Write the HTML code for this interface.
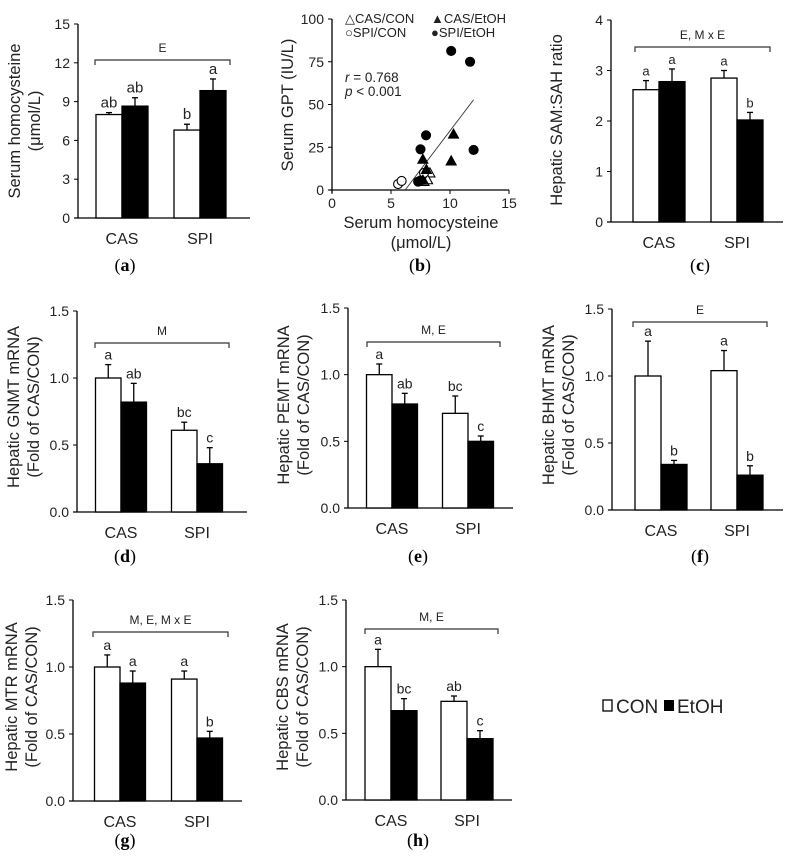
<!DOCTYPE html>
<html><head><meta charset="utf-8"><style>
html,body{margin:0;padding:0;background:#fff;}
svg{display:block;font-family:"Liberation Sans",sans-serif;}
</style></head><body>
<svg id="fig" width="790" height="864" viewBox="0 0 790 864" xmlns="http://www.w3.org/2000/svg"></svg>
<script>
const NS="http://www.w3.org/2000/svg";
const svg=document.getElementById('fig');
const groups=["CAS","SPI"];
// Panel data
const aCon=[8.0,6.8], aConErr=[0.15,0.45], aEtoh=[8.65,9.85], aEtohErr=[0.65,0.9], aLetters=["ab","ab","b","a"], aTicks=[0,3,6,9,12,15];
const cCon=[2.62,2.85], cConErr=[0.18,0.15], cEtoh=[2.78,2.02], cEtohErr=[0.25,0.15], cLetters=["a","a","a","b"], cTicks=[0,1,2,3,4];
const dCon=[1.0,0.61], dConErr=[0.1,0.06], dEtoh=[0.82,0.36], dEtohErr=[0.14,0.12], dLetters=["a","ab","bc","c"];
const eCon=[1.0,0.71], eConErr=[0.08,0.13], eEtoh=[0.78,0.50], eEtohErr=[0.08,0.04], eLetters=["a","ab","bc","c"];
const fCon=[1.0,1.04], fConErr=[0.26,0.15], fEtoh=[0.34,0.26], fEtohErr=[0.03,0.07], fLetters=["a","b","a","b"];
const gCon=[1.0,0.91], gConErr=[0.09,0.06], gEtoh=[0.88,0.47], gEtohErr=[0.09,0.05], gLetters=["a","a","a","b"];
const hCon=[1.0,0.74], hConErr=[0.13,0.04], hEtoh=[0.67,0.46], hEtohErr=[0.09,0.06], hLetters=["a","bc","ab","c"];
const mTicks=["0.0","0.5","1.0","1.5"];
// scatter data
const casConX=[8.3,8.1,7.8], casConY=[10,6,5];
const casEtohX=[10.3,10.1,7.7,8.0,7.7], casEtohY=[32.7,17,18,12,5.8];
const spiConX=[5.6,5.9,7.8], spiConY=[3.5,5.3,10];
const spiEtohX=[7.97,7.5,12.0,7.3,7.5,10.1,11.7], spiEtohY=[32,23.8,23.4,4.9,5.5,81.3,75];
const fitX=[6.2,12.0], fitSlope=9.1, fitIntercept=-56.4;
const bTicksX=[0,5,10,15], bTicksY=[0,25,50,75,100];

function el(tag,attrs,parent,text){
  const e=document.createElementNS(NS,tag);
  for(const k in attrs)e.setAttribute(k,attrs[k]);
  if(text!==undefined)e.textContent=text;
  (parent||svg).appendChild(e);return e;
}
function panelLabel(letter,x,y){
  const t=el('text',{x:x,y:y,'text-anchor':'middle','font-family':'Liberation Serif, serif','font-size':18});
  
  
  t.appendChild(document.createTextNode('('));
  el('tspan',{'font-weight':'bold'},t,letter);
  t.appendChild(document.createTextNode(')'));
}
function barPanel(p){
  const g=el('g',{});
  
  
  const ys=v=>p.y0-(v/p.max)*(p.y0-p.y1);
  el('line',{x1:p.ax,y1:p.y1,x2:p.ax,y2:p.y0,stroke:'#000','stroke-width':1.3},g);
  el('line',{x1:p.ax-4,y1:p.y0,x2:p.axEnd,y2:p.y0,stroke:'#000','stroke-width':1.3},g);
  p.ticks.forEach(tk=>{
    const v=parseFloat(tk);const y=ys(v);
    el('line',{x1:p.ax-4,y1:y,x2:p.ax,y2:y,stroke:'#000'},g);
    const t=el('text',{x:p.ax-8,y:y+5,'text-anchor':'end','font-size':14,fill:'#222'},g,tk);
    
    
  });
  const w=p.bw;
  groups.forEach((gr,i)=>{
    const cx=p.cx[i];
    [[p.con,p.conErr,'#fff',cx-w,'con'],[p.etoh,p.etohErr,'#000',cx,'etoh']].forEach((s,j)=>{
      const v=s[0][i],er=s[1][i];const top=ys(v);
      const r=el('rect',{x:s[3],y:top,width:w,height:p.y0-top,fill:s[2],stroke:'#000','stroke-width':1.3},g);
      
      
      const ex=s[3]+w/2, ey=ys(v+er);
      el('line',{x1:ex,y1:top,x2:ex,y2:ey,stroke:'#000','stroke-width':1.3},g);
      el('line',{x1:ex-3,y1:ey,x2:ex+3,y2:ey,stroke:'#000','stroke-width':1.3},g);
      const lt=el('text',{x:ex,y:ey-5,'text-anchor':'middle','font-size':p.lfs||13,fill:'#222'},g,p.letters[i*2+j]);
      
      
    });
    const ct=el('text',{x:cx,y:p.y0+26,'text-anchor':'middle','font-size':16,fill:'#222'},g,gr);
    
    
  });
  const bx1=p.br[0],bx2=p.br[1],by=p.br[2];
  el('path',{d:`M${bx1},${by+5}V${by}H${bx2}V${by+5}`,fill:'none',stroke:'#333','stroke-width':1.2},g);
  const bt=el('text',{x:(bx1+bx2)/2,y:by-8,'text-anchor':'middle','font-size':12,fill:'#222'},g,p.stat);
  
  
  const tg=el('text',{transform:`translate(${p.tx},${p.ty}) rotate(-90)`,'text-anchor':'middle','font-size':16.5,fill:'#222'},g);
  
  
  p.title.forEach((ln,k)=>{el('tspan',{x:0,dy:k===0?0:20},tg,ln);});
  panelLabel(p.id,p.lx,p.ly);
}
barPanel({id:'a',ax:78,axEnd:250,y0:218,y1:24,max:15,ticks:aTicks.map(String),bw:26,cx:[122,200],
  con:aCon,conErr:aConErr,etoh:aEtoh,etohErr:aEtohErr,letters:aLetters,lfs:15,br:[95,230,60],stat:'E',
  title:['Serum homocysteine','(μmol/L)'],tx:20,ty:121,lx:125,ly:271});
barPanel({id:'c',ax:611,axEnd:783,y0:222,y1:20,max:4,ticks:cTicks.map(String),bw:26,cx:[659,737],
  con:cCon,conErr:cConErr,etoh:cEtoh,etohErr:cEtohErr,letters:cLetters,lfs:13,br:[635,770,47],stat:'E, M x E',
  title:['Hepatic SAM:SAH ratio'],tx:562,ty:120,lx:700,ly:271});
barPanel({id:'d',ax:77,axEnd:247,y0:512,y1:311,max:1.5,ticks:mTicks,bw:25.5,cx:[121,197],
  con:dCon,conErr:dConErr,etoh:dEtoh,etohErr:dEtohErr,letters:dLetters,lfs:14,br:[95,229,343],stat:'M',
  title:['Hepatic GNMT mRNA','(Fold of CAS/CON)'],tx:19,ty:407,lx:125,ly:562});
barPanel({id:'e',ax:348,axEnd:513,y0:508,y1:308,max:1.5,ticks:mTicks,bw:25.5,cx:[392,468],
  con:eCon,conErr:eConErr,etoh:eEtoh,etohErr:eEtohErr,letters:eLetters,lfs:14,br:[367,500,342],stat:'M, E',
  title:['Hepatic PEMT mRNA','(Fold of CAS/CON)'],tx:289,ty:405,lx:418,ly:562});
barPanel({id:'f',ax:612,axEnd:783,y0:510,y1:309,max:1.5,ticks:mTicks,bw:26,cx:[661,737],
  con:fCon,conErr:fConErr,etoh:fEtoh,etohErr:fEtohErr,letters:fLetters,lfs:14,br:[633,767,322],stat:'E',
  title:['Hepatic BHMT mRNA','(Fold of CAS/CON)'],tx:554,ty:405,lx:700,ly:562});
barPanel({id:'g',ax:73,axEnd:242,y0:801,y1:600,max:1.5,ticks:mTicks,bw:25.5,cx:[120,197],
  con:gCon,conErr:gConErr,etoh:gEtoh,etohErr:gEtohErr,letters:gLetters,lfs:14,br:[93,228,632],stat:'M, E, M x E',
  title:['Hepatic MTR mRNA','(Fold of CAS/CON)'],tx:17,ty:697,lx:125,ly:846});
barPanel({id:'h',ax:346,axEnd:512,y0:800,y1:600,max:1.5,ticks:mTicks,bw:26,cx:[391,467],
  con:hCon,conErr:hConErr,etoh:hEtoh,etohErr:hEtohErr,letters:hLetters,lfs:14,br:[365,498,629],stat:'M, E',
  title:['Hepatic CBS mRNA','(Fold of CAS/CON)'],tx:288,ty:697,lx:418,ly:846});

(function(){
  const g=el('g',{});
  
  
  const x0=332,y0=190,xs=v=>x0+v*11.8,ys=v=>y0-v*1.71;
  el('line',{x1:x0,y1:ys(100),x2:x0,y2:y0+3,stroke:'#000','stroke-width':1.3},g);
  el('line',{x1:x0-3,y1:y0,x2:xs(15),y2:y0,stroke:'#000','stroke-width':1.3},g);
  bTicksY.forEach(v=>{el('line',{x1:x0-4,y1:ys(v),x2:x0,y2:ys(v),stroke:'#000'},g);
    const t=el('text',{x:x0-8,y:ys(v)+5,'text-anchor':'end','font-size':14,fill:'#222'},g,String(v));
    });
  bTicksX.forEach(v=>{el('line',{x1:xs(v),y1:y0,x2:xs(v),y2:y0+4,stroke:'#000'},g);
    const t=el('text',{x:xs(v),y:y0+18,'text-anchor':'middle','font-size':14,fill:'#222'},g,String(v));
    });
  const fl=el('line',{x1:xs(fitX[0]),y1:ys(fitSlope*fitX[0]+fitIntercept),x2:xs(fitX[1]),y2:ys(fitSlope*fitX[1]+fitIntercept),stroke:'#333','stroke-width':0.9},g);
  
  function tri(x,y,fill,name){const p=el('polygon',{points:`${x},${y-5} ${x-5},${y+4} ${x+5},${y+4}`,fill:fill,stroke:'#000','stroke-width':1.1},g);
    }
  function cir(x,y,fill,name){const c=el('circle',{cx:x,cy:y,r:4.5,fill:fill,stroke:'#000','stroke-width':1.1},g);
    }
  casConX.forEach((v,i)=>tri(xs(v),ys(casConY[i]),'#fff','point-cas-con'));
  spiConX.forEach((v,i)=>cir(xs(v),ys(spiConY[i]),'#fff','point-spi-con'));
  casEtohX.forEach((v,i)=>tri(xs(v),ys(casEtohY[i]),'#000','point-cas-etoh'));
  spiEtohX.forEach((v,i)=>cir(xs(v),ys(spiEtohY[i]),'#000','point-spi-etoh'));
  const leg=[['△CAS/CON',345,23],['▲CAS/EtOH',431,23],['○SPI/CON',345,37],['●SPI/EtOH',431,37]];
  leg.forEach(l=>{const t=el('text',{x:l[1],y:l[2],'font-size':13,fill:'#222'},g,l[0]);
    });
  const r=el('text',{x:345,y:82,'font-size':13.5,fill:'#222'},g);
  
  el('tspan',{'font-style':'italic'},r,'r');r.appendChild(document.createTextNode(' = 0.768'));
  const p=el('text',{x:345,y:96,'font-size':13.5,fill:'#222'},g);
  
  el('tspan',{'font-style':'italic'},p,'p');p.appendChild(document.createTextNode(' < 0.001'));
  const yt=el('text',{transform:'translate(293,105) rotate(-90)','text-anchor':'middle','font-size':16.5,fill:'#222'},g,'Serum GPT (IU/L)');
  
  const xt=el('text',{x:421,y:228,'text-anchor':'middle','font-size':16.5,fill:'#222'},g,'Serum homocysteine');
  
  const xt2=el('text',{x:421,y:248,'text-anchor':'middle','font-size':16.5,fill:'#222'},g,'(μmol/L)');
  
  panelLabel('b',420,271);
})();

(function(){
  const g=el('g',{});
  
  
  el('rect',{x:603,y:700,width:9,height:11,fill:'#fff',stroke:'#000','stroke-width':1.3},g);
  const t1=el('text',{x:616,y:713,'font-size':19,fill:'#222'},g,'CON');
  
  el('rect',{x:664,y:700,width:10,height:11,fill:'#000'},g);
  const t2=el('text',{x:677,y:713,'font-size':19,fill:'#222'},g,'EtOH');
  
})();
</script>
</body></html>
